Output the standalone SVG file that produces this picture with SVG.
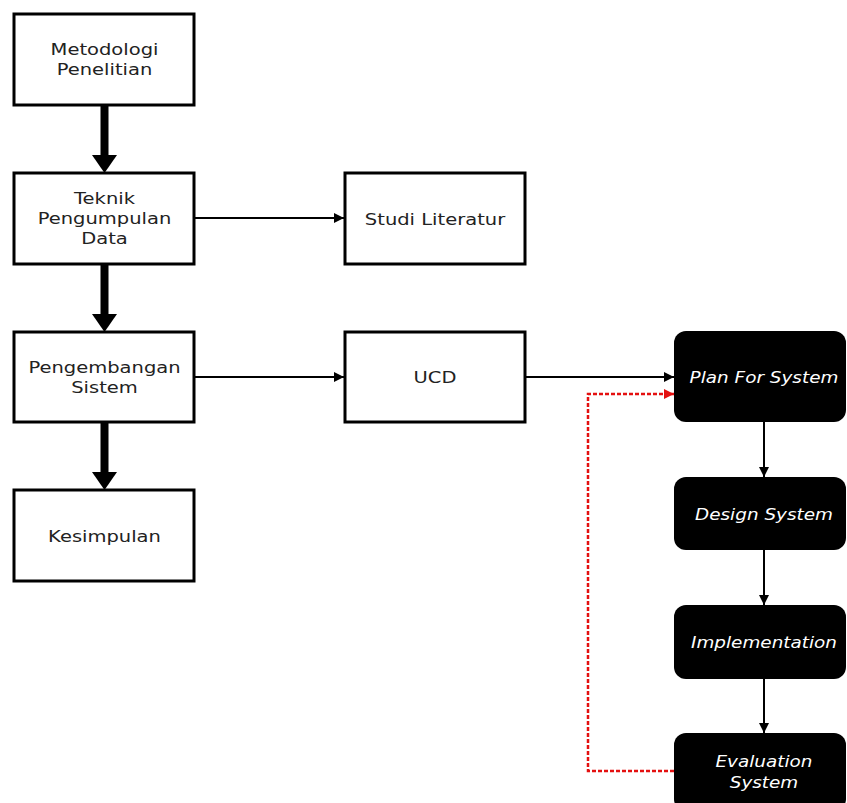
<svg xmlns="http://www.w3.org/2000/svg" width="847" height="803" viewBox="0 0 847 803">
<style>
.box{fill:#fff;stroke:#000;stroke-width:3}
.blk{fill:#000;stroke:none}
.t{font-family:"DejaVu Sans","Open Sans",sans-serif;font-size:16px;fill:#222;text-anchor:middle}
.w{font-family:"DejaVu Sans","Open Sans",sans-serif;font-size:16px;fill:#fff;font-style:italic;text-anchor:middle}
.thick{stroke:#000;stroke-width:8;fill:none}
.thin{stroke:#000;stroke-width:2;fill:none}
.red{stroke:#e41010;stroke-width:2.5;fill:none;stroke-dasharray:4 2}
</style>
<defs>
<marker id="ah" markerWidth="10" markerHeight="10" refX="10" refY="5" orient="auto" markerUnits="userSpaceOnUse">
<path d="M0,0 L10,5 L0,10 Z" fill="#000"/>
</marker>
<marker id="ahr" markerWidth="10" markerHeight="10" refX="10" refY="5" orient="auto" markerUnits="userSpaceOnUse">
<path d="M0,0 L10,5 L0,10 Z" fill="#e41010"/>
</marker>
</defs>

<g id="connectors">
<line class="thick" x1="104.5" y1="106" x2="104.5" y2="157"/>
<path d="M92,155 L117,155 L104.5,173 Z" fill="#000"/>
<line class="thick" x1="104.5" y1="265" x2="104.5" y2="316"/>
<path d="M92,314 L117,314 L104.5,332 Z" fill="#000"/>
<line class="thick" x1="104.5" y1="423" x2="104.5" y2="474"/>
<path d="M92,472 L117,472 L104.5,490 Z" fill="#000"/>
<line class="thin" x1="195" y1="218" x2="344" y2="218" marker-end="url(#ah)"/>
<line class="thin" x1="195" y1="377" x2="344" y2="377" marker-end="url(#ah)"/>
<line class="thin" x1="526" y1="377" x2="674" y2="377" marker-end="url(#ah)"/>
<line class="thin" x1="764" y1="422" x2="764" y2="477" marker-end="url(#ah)"/>
<line class="thin" x1="764" y1="550" x2="764" y2="605" marker-end="url(#ah)"/>
<line class="thin" x1="764" y1="679" x2="764" y2="733" marker-end="url(#ah)"/>
<path class="red" d="M674,771 H588 V394 H674" marker-end="url(#ahr)"/>
</g>

<g id="metodologi">
<rect class="box" x="14" y="14" width="180" height="91"/>
<text class="t" transform="translate(104.5,0) scale(1.22,1)"><tspan x="0" y="55">Metodologi</tspan><tspan x="0" y="75">Penelitian</tspan></text>
</g>
<g id="teknik">
<rect class="box" x="14" y="173" width="180" height="91"/>
<text class="t" transform="translate(104.5,0) scale(1.22,1)"><tspan x="0" y="204">Teknik</tspan><tspan x="0" y="224">Pengumpulan</tspan><tspan x="0" y="244">Data</tspan></text>
</g>
<g id="studi">
<rect class="box" x="345" y="173" width="180" height="91"/>
<text class="t" transform="translate(435,0) scale(1.22,1)" x="0" y="225">Studi Literatur</text>
</g>
<g id="pengembangan">
<rect class="box" x="14" y="332" width="180" height="90"/>
<text class="t" transform="translate(104.5,0) scale(1.22,1)"><tspan x="0" y="373">Pengembangan</tspan><tspan x="0" y="393">Sistem</tspan></text>
</g>
<g id="ucd">
<rect class="box" x="345" y="332" width="180" height="90"/>
<text class="t" transform="translate(435,0) scale(1.22,1)" x="0" y="383">UCD</text>
</g>
<g id="kesimpulan">
<rect class="box" x="14" y="490" width="180" height="91"/>
<text class="t" transform="translate(104.5,0) scale(1.22,1)" x="0" y="542">Kesimpulan</text>
</g>
<g id="plan">
<rect class="blk" x="674" y="331" width="172" height="91" rx="12"/>
<text class="w" transform="translate(764,0) scale(1.15,1)" x="0" y="383">Plan For System</text>
</g>
<g id="design">
<rect class="blk" x="674" y="477" width="172" height="73" rx="12"/>
<text class="w" transform="translate(764,0) scale(1.15,1)" x="0" y="520">Design System</text>
</g>
<g id="implementation">
<rect class="blk" x="674" y="605" width="172" height="74" rx="12"/>
<text class="w" transform="translate(764,0) scale(1.15,1)" x="0" y="648">Implementation</text>
</g>
<g id="evaluation">
<rect class="blk" x="674" y="733" width="172" height="78" rx="12"/>
<text class="w" transform="translate(764,0) scale(1.15,1)"><tspan x="0" y="767">Evaluation</tspan><tspan x="0" y="788">System</tspan></text>
</g>
</svg>
